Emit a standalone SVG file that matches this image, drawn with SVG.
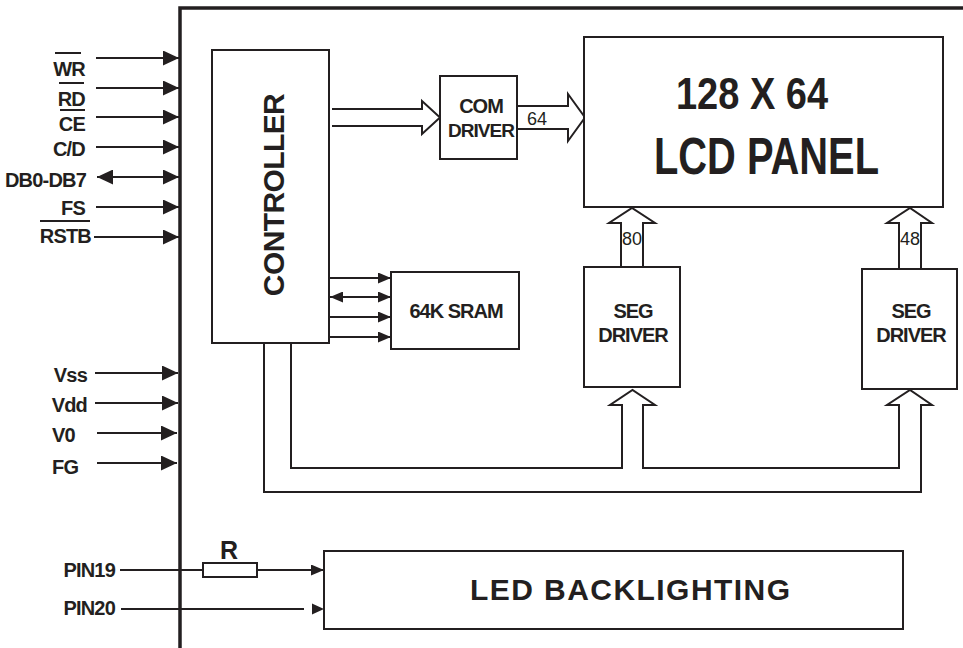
<svg xmlns="http://www.w3.org/2000/svg" width="963" height="648" viewBox="0 0 963 648">
<style>
.b{fill:#fff;stroke:#231f20;stroke-width:2}
.ln{fill:none;stroke:#231f20;stroke-width:2}
.ho{fill:#fff;stroke:#231f20;stroke-width:2;stroke-linejoin:miter}
.t{font-family:"Liberation Sans",Arial,sans-serif;font-weight:bold;fill:#231f20}
.r{font-family:"Liberation Sans",Arial,sans-serif;fill:#231f20;font-size:18px}
.pin{font-size:20px;letter-spacing:-0.8px;text-anchor:end}
.pl{font-size:20px;letter-spacing:-0.8px}
.bx{font-size:20px;letter-spacing:-1px;text-anchor:middle}
</style>
<defs>
<marker id="ah" viewBox="0 0 16 15" refX="16" refY="7.5" markerWidth="16" markerHeight="15" markerUnits="userSpaceOnUse" orient="auto-start-reverse"><path d="M0,0L16,7.5L0,15z" fill="#231f20"/></marker>
<marker id="as" viewBox="0 0 13 11" refX="13" refY="5.5" markerWidth="13" markerHeight="11" markerUnits="userSpaceOnUse" orient="auto-start-reverse"><path d="M0,0L13,5.5L0,11z" fill="#231f20"/></marker>
</defs>
<rect width="963" height="648" fill="#fff"/>
<g id="frame"><path d="M180,648V8H963" fill="none" stroke="#231f20" stroke-width="3.5"/></g>
<g id="connectors">
<line class="ln" x1="96" y1="58" x2="179" y2="58" marker-end="url(#ah)"/>
<line class="ln" x1="96" y1="88" x2="179" y2="88" marker-end="url(#ah)"/>
<line class="ln" x1="96" y1="117" x2="179" y2="117" marker-end="url(#ah)"/>
<line class="ln" x1="96" y1="147" x2="179" y2="147" marker-end="url(#ah)"/>
<line class="ln" x1="97" y1="177" x2="179" y2="177" marker-start="url(#ah)" marker-end="url(#ah)"/>
<line class="ln" x1="96" y1="207" x2="179" y2="207" marker-end="url(#ah)"/>
<line class="ln" x1="94" y1="237" x2="179" y2="237" marker-end="url(#ah)"/>
<line class="ln" x1="95" y1="373" x2="178" y2="373" marker-end="url(#ah)"/>
<line class="ln" x1="95" y1="403" x2="178" y2="403" marker-end="url(#ah)"/>
<line class="ln" x1="97" y1="433" x2="177" y2="433" marker-end="url(#ah)"/>
<line class="ln" x1="97" y1="463" x2="177" y2="463" marker-end="url(#ah)"/>
<line class="ln" x1="329" y1="278" x2="391" y2="278" marker-end="url(#as)"/>
<line class="ln" x1="330" y1="297" x2="391" y2="297" marker-start="url(#as)" marker-end="url(#as)"/>
<line class="ln" x1="329" y1="317" x2="391" y2="317" marker-end="url(#as)"/>
<line class="ln" x1="329" y1="337" x2="391" y2="337" marker-end="url(#as)"/>
<path class="ho" d="M332,109H422V101L440,117.5L422,134V126H332"/>
<path class="ho" d="M517,106H568V94L585,117.5L568,141V129H517"/>
<path class="ho" d="M621,267V223H609L632,208L655,223H643V267"/>
<path class="ho" d="M899,269V223H887L910,208L932,223H921V269"/>
<path class="ln" d="M291,343V468H622V405H610L632.5,390L655,405H643V468H899V405H887L910,390L932,405H921V492H264V343"/>
<line class="ln" x1="120" y1="570" x2="324" y2="570" marker-end="url(#as)"/>
<line class="ln" x1="121" y1="609" x2="304" y2="609"/>
<path d="M312,603.5L324,609L312,614.5z" fill="#231f20"/>
</g>
<g id="resistor">
<rect class="b" x="203" y="563" width="54" height="14"/>
<text class="t" x="229" y="559" font-size="25" text-anchor="middle">R</text>
</g>
<g id="pins">
<text class="t pin" x="85" y="76">WR</text>
<line class="ln" x1="55" y1="53" x2="81" y2="53"/>
<text class="t pin" x="85" y="106">RD</text>
<line class="ln" x1="59" y1="83" x2="84" y2="83"/>
<text class="t pin" x="85" y="131">CE</text>
<line class="ln" x1="60" y1="110" x2="85" y2="110"/>
<text class="t pin" x="85" y="156">C/D</text>
<text class="t pin" x="86" y="187">DB0-DB7</text>
<text class="t pin" x="85" y="215">FS</text>
<text class="t pin" x="91" y="243">RSTB</text>
<line class="ln" x1="40" y1="221" x2="90" y2="221"/>
<text class="t pin" x="87" y="382">Vss</text>
<text class="t pin" x="87" y="412">Vdd</text>
<text class="t pl" x="52" y="442">V0</text>
<text class="t pl" x="52" y="474">FG</text>
<text class="t pin" x="115" y="577">PIN19</text>
<text class="t pin" x="115" y="615">PIN20</text>
</g>
<g id="controller">
<rect class="b" x="212" y="50" width="117" height="293"/>
<text class="t" transform="translate(284,195) rotate(-90)" font-size="30" letter-spacing="-0.6" text-anchor="middle">CONTROLLER</text>
</g>
<g id="com-driver">
<rect class="b" x="440" y="76" width="77" height="83"/>
<text class="t bx" x="481" y="113" font-size="19">COM</text>
<text class="t bx" x="481" y="137" style="font-size:19px">DRIVER</text>
<text class="r" x="527" y="125">64</text>
</g>
<g id="lcd-panel">
<rect class="b" x="584" y="37" width="359" height="170"/>
<text class="t" x="676" y="109" font-size="44" textLength="152" lengthAdjust="spacingAndGlyphs">128 X 64</text>
<text class="t" x="654" y="174" font-size="51" textLength="225" lengthAdjust="spacingAndGlyphs">LCD PANEL</text>
</g>
<g id="sram">
<rect class="b" x="391" y="272" width="128" height="77"/>
<text class="t bx" x="456" y="318">64K SRAM</text>
</g>
<g id="seg-driver-1">
<rect class="b" x="584" y="267" width="96" height="120"/>
<text class="t bx" x="633" y="318">SEG</text>
<text class="t bx" x="633" y="342">DRIVER</text>
<text class="r" x="622" y="245">80</text>
</g>
<g id="seg-driver-2">
<rect class="b" x="862" y="269" width="95" height="120"/>
<text class="t bx" x="911" y="318">SEG</text>
<text class="t bx" x="911" y="342">DRIVER</text>
<text class="r" x="900" y="245">48</text>
</g>
<g id="led-backlighting">
<rect class="b" x="324" y="551" width="579" height="78"/>
<text class="t" x="470" y="600" font-size="30" textLength="320" lengthAdjust="spacing">LED BACKLIGHTING</text>
</g>
</svg>
